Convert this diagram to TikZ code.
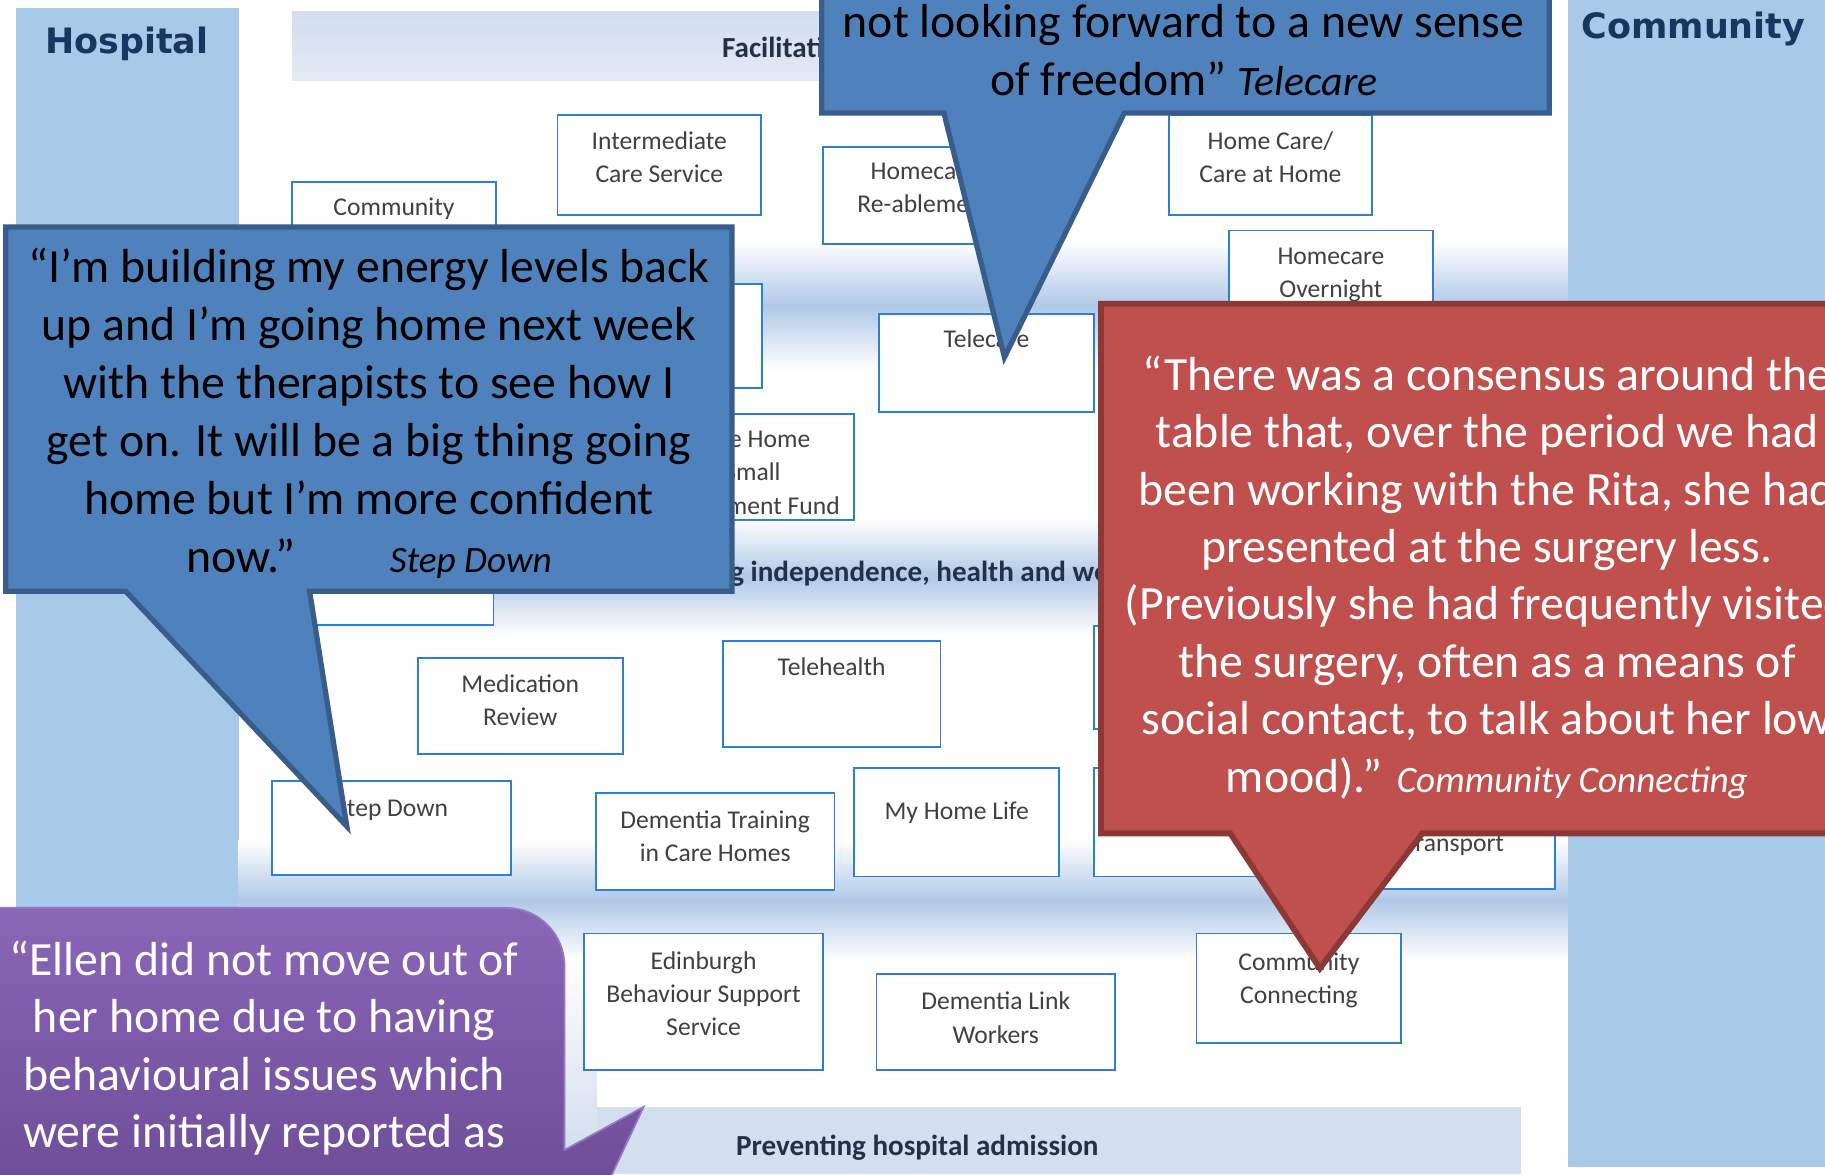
\documentclass[tikz,border=0pt]{standalone}
\usepackage{fontspec}
\setmainfont{Carlito}
\newfontfamily\headfont{DejaVu Sans}

\definecolor{colblue}{RGB}{167,202,233}
\definecolor{bandblue}{RGB}{176,200,231}
\definecolor{bandtop}{RGB}{210,222,239}
\definecolor{bandtopb}{RGB}{227,234,244}
\definecolor{bandlow}{RGB}{205,218,236}
\definecolor{bandbottom}{RGB}{211,223,238}
\definecolor{boxblue}{RGB}{46,128,207}
\definecolor{labelgrey}{RGB}{64,64,64}
\definecolor{headnavy}{RGB}{24,54,96}
\definecolor{bandtext}{RGB}{35,48,72}
\definecolor{cblue}{RGB}{79,129,189}
\definecolor{cblueedge}{RGB}{56,93,138}
\definecolor{cred}{RGB}{192,80,77}
\definecolor{crededge}{RGB}{140,56,54}
\definecolor{cpurpletop}{RGB}{138,102,184}
\definecolor{cpurplebot}{RGB}{108,76,150}
\definecolor{cpurpleedge}{RGB}{150,120,196}

\tikzset{every picture/.style={line width=0.75pt}}
\tikzset{
  svc/.style={draw=boxblue, line width=1.6pt, fill=white},
  svclabel/.style={anchor=north, inner sep=0pt, align=center, text=labelgrey,
    font=\fontsize{22}{28.5}\selectfont, execute at begin node=\strut},
  bandlabel/.style={anchor=base west, inner sep=0pt, text=bandtext,
    font=\fontsize{25}{30}\selectfont\bfseries},
  headlabel/.style={anchor=base, inner sep=0pt, text=headnavy,
    font=\fontsize{30}{36}\selectfont\headfont\bfseries},
  band/.style={top color=white, bottom color=white, middle color=bandblue},
  quote/.style={anchor=north, inner sep=0pt, align=center,
    font=\fontsize{41}{49.3}\selectfont, execute at begin node=\strut},
  callblue/.style={fill=cblue, draw=cblueedge, line width=4.5pt},
  callred/.style={fill=cred, draw=crededge, line width=5pt},
  callpurple/.style={top color=cpurpletop, bottom color=cpurplebot, draw=cpurpleedge, line width=1.5pt}
}
\newcommand{\attrib}[2][32]{{\fontsize{#1}{49.3}\selectfont\itshape #2}}

\begin{document}
\begin{tikzpicture}[x=1pt,y=1pt,yscale=-1,xscale=1]
\useasboundingbox (0,0) rectangle (1568,1009);
\clip (0,0) rectangle (1568,1009);
\fill[white] (0,0) rectangle (1568,1009);

%Shape: Rectangle [columns]
\fill[colblue] (14,7) rectangle (205,900);
\fill[colblue] (1347,0) rectangle (1568,1003);
\node[headlabel] (hosp) at (109,46) {Hospital};
\node[headlabel] (comm) at (1455,33) {Community};

%Shape: Rectangle [bands]
\fill[top color=bandtop, bottom color=bandtopb] (251,10) rectangle (1330,69);
\fill[band] (205,207) rectangle (1347,318);
\fill[band] (205,445) rectangle (1347,546);
\fill[band] (205,722) rectangle (1347,825);
\fill[top color=white, bottom color=bandlow] (205,822) rectangle (513,1009);
\fill[bandbottom] (513,951) rectangle (1307,1009);

\node[bandlabel] (facil) at (620,49) {Facilitating};
\node[bandlabel] (indep) at (627,500) {\llap{Maintainin}g independence, health and wellbeing};
\node[bandlabel] (prevent) at (632,993) {Preventing hospital admission};

%Shape: Rectangle [service boxes]
\draw[svc] (251,156) rectangle (426,240);
\draw[svc] (479,99) rectangle (654,185);
\draw[svc] (707,126) rectangle (881,210);
\draw[svc] (1004,99) rectangle (1179,185);
\draw[svc] (1056,198) rectangle (1231,300);
\draw[svc] (479,244) rectangle (655,333);
\draw[svc] (559,356) rectangle (734,447);
\draw[svc] (755,270) rectangle (940,354);
\draw[svc] (251,440) rectangle (424,537);
\draw[svc] (359,565) rectangle (535,648);
\draw[svc] (621,551) rectangle (808,642);
\draw[svc] (940,538) rectangle (1115,626);
\draw[svc] (234,671) rectangle (439,752);
\draw[svc] (512,681) rectangle (717,765);
\draw[svc] (734,660) rectangle (910,753);
\draw[svc] (940,660) rectangle (1115,753);
\draw[svc] (1163,650) rectangle (1336,764);
\draw[svc] (502,802) rectangle (707,919);
\draw[svc] (753,837) rectangle (958,919);
\draw[svc] (1028,802) rectangle (1204,896);

\node[svclabel] (community) at (338.5,165) {Community};
\node[svclabel] (intcare) at (566.5,112.5) {Intermediate\\Care Service};
\node[svclabel] (reable) at (794,140) {Homecare\\Re-ablement};
\node[svclabel] (homecare) at (1091.5,113) {Home Care/\\Care at Home};
\node[svclabel] (overnight) at (1143.5,213) {Homecare\\Overnight};
\node[svclabel] (carehome) at (646.5,370) {Care Home\\Small\\Investment Fund};
\node[svclabel] (telecare) at (847.5,278) {Telecare};
\node[svclabel] (medrev) at (447,579) {Medication\\Review};
\node[svclabel] (telehealth) at (714.5,560) {Telehealth};
\node[svclabel] (stepdown) at (336.5,681) {Step Down};
\node[svclabel] (demtrain) at (614.5,696) {Dementia Training\\in Care Homes};
\node[svclabel] (myhome) at (822,684) {My Home Life};
\node[svclabel] (transport) at (1249.5,711) {Transport};
\node[svclabel] (edinburgh) at (604.5,817) {Edinburgh\\Behaviour Support\\Service};
\node[svclabel] (demlink) at (855.5,852) {Dementia Link\\Workers};
\node[svclabel] (commconn) at (1116,818) {Community\\Connecting};

%Shape: Callout [Step Down]
\draw[callblue] (5,195) -- (629,195) -- (629,508) -- (266,508) -- (298,710) -- (108,508) -- (5,508) -- cycle;
\node[quote, font=\fontsize{41}{49.8}\selectfont] (stepq) at (317,212.5) {“I’m building my energy levels back\\up and I’m going home next week\\with the therapists to see how I\\get on. It will be a big thing going\\home but I’m more confident\\now.”\hspace{81pt}\attrib{Step Down}};

%Shape: Callout [Telecare]
\draw[callblue] (706,-80) -- (1331,-80) -- (1331,97) -- (966,97) -- (863,307) -- (811,97) -- (706,97) -- cycle;
\node[quote] (teleq) at (1017,3.5) {not looking forward to a new sense\\of freedom” \attrib[36]{Telecare}};

%Shape: Callout [Community Connecting]
\draw[callred] (946,261) -- (1620,261) -- (1620,716) -- (1222,716) -- (1134,832) -- (1057,716) -- (946,716) -- cycle;
\node[quote, text=white] (connq) at (1277.5,305.5) {“There was a consensus around the\\table that, over the period we had\\been working with the Rita, she had\\presented at the surgery less.\\(Previously she had frequently visited\\the surgery, often as a means of\\social contact, to talk about her low\\mood).” \attrib{Community Connecting}};

%Shape: Callout [Edinburgh Behaviour Support]
\draw[callpurple] (-45,780) -- (435,780) arc[start angle=-90,end angle=0,radius=50] -- (485,988) -- (553,951) -- (516,1030) -- (-45,1030) -- cycle;
\node[quote, text=white] (ellenq) at (227,808) {“Ellen did not move out of\\her home due to having\\behavioural issues which\\were initially reported as};
\end{tikzpicture}
\end{document}
